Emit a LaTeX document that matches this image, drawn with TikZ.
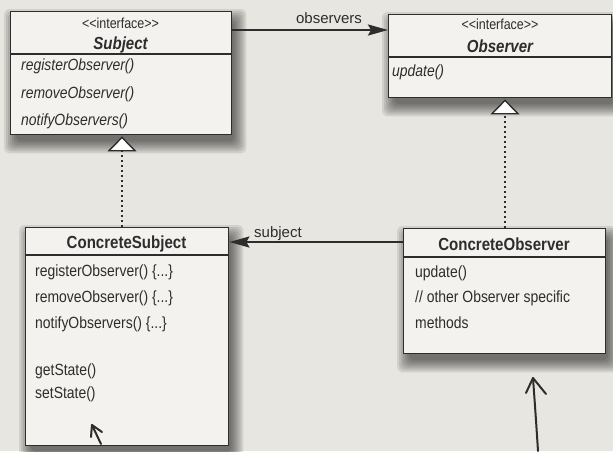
\documentclass[tikz,border=0pt]{standalone}
\usepackage{fontspec}
\setmainfont{Liberation Sans}[FakeStretch=0.86]
\newfontfamily\labelfont{Liberation Sans}
\usetikzlibrary{arrows.meta}
\definecolor{bgcol}{RGB}{232,230,225}
\definecolor{boxcol}{RGB}{243,242,239}
\definecolor{ink}{RGB}{45,45,45}
\pgfdeclarelayer{bglayer}
\pgfdeclarelayer{shadowlayer}
\pgfsetlayers{bglayer,shadowlayer,main}
\tikzset{
  umlbox/.style={draw=ink, line width=1.4pt, fill=boxcol, inner sep=0pt, anchor=north west},
  divider/.style={draw=ink, line width=1.4pt},
  stereo/.style={text=ink, inner sep=0pt, anchor=base, font=\fontsize{14.5}{16}\selectfont},
  ititle/.style={text=ink, inner sep=0pt, anchor=base, font=\fontsize{17.5}{19}\selectfont\bfseries\itshape},
  ctitle/.style={text=ink, inner sep=0pt, anchor=base, font=\fontsize{17.5}{19}\selectfont\bfseries},
  imeth/.style={text=ink, inner sep=0pt, anchor=base west, font=\fontsize{16.2}{18}\selectfont\itshape},
  cmeth/.style={text=ink, inner sep=0pt, anchor=base west, font=\fontsize{16.2}{18}\selectfont},
  assoclabel/.style={text=ink, inner sep=0pt, anchor=base, font=\labelfont\fontsize{15}{17}\selectfont},
  assoc/.style={draw=ink, line width=2.2pt, -{Stealth[length=20pt, width=11pt, inset=3pt]}},
  realize/.style={draw=ink, line width=1.6pt, dash pattern=on 1.6pt off 3.4pt,
    -{Triangle[length=15pt, width=29pt, fill=white, line width=1.4pt, sep=1pt]}},
  hand/.style={draw=ink, line width=2pt, line cap=round, line join=round}
}
\newcommand\boxshadow[1]{%
  \begin{pgfonlayer}{shadowlayer}
  \foreach \r in {-2,0,...,10} {
    \fill[black, opacity=0.095, rounded corners=6pt]
      ([xshift=4pt-\r pt, yshift=-8pt+\r pt]#1.north west) rectangle
      ([xshift=4pt+\r pt, yshift=-8pt-\r pt]#1.south east);
  }
  \end{pgfonlayer}}
\begin{document}
\begin{tikzpicture}[x=1pt, y=-1pt]
\begin{pgfonlayer}{bglayer}
\fill[bgcol] (0,0) rectangle (613,451);
\end{pgfonlayer}
\useasboundingbox (0,0) rectangle (613,451);

% Subject interface
\node[umlbox, minimum width=221pt, minimum height=123pt] (subj) at (10,11) {};
\boxshadow{subj}
\draw[divider] (subj.west |- 0,54) -- (subj.east |- 0,54);
\node[stereo] (subjst) at (120.5,28) {<{}<interface>{}>};
\node[ititle] (subjt) at (120.5,49) {Subject};
\node[imeth] (subjm1) at (21,70) {registerObserver()};
\node[imeth] (subjm2) at (21,98) {removeObserver()};
\node[imeth] (subjm3) at (21,125) {notifyObservers()};

% Observer interface
\node[umlbox, minimum width=223pt, minimum height=83pt] (obs) at (388,14) {};
\boxshadow{obs}
\draw[divider] (obs.west |- 0,57) -- (obs.east |- 0,57);
\node[stereo] (obsst) at (500,29) {<{}<interface>{}>};
\node[ititle] (obst) at (500,52) {Observer};
\node[imeth] (obsm1) at (392,76) {update()};

% ConcreteSubject
\node[umlbox, minimum width=203pt, minimum height=218pt] (csubj) at (25,227) {};
\boxshadow{csubj}
\draw[divider] (csubj.west |- 0,255) -- (csubj.east |- 0,255);
\node[ctitle] (csubjt) at (126.5,248) {ConcreteSubject};
\node[cmeth] (csubjm1) at (35,276) {registerObserver() \{...\}};
\node[cmeth] (csubjm2) at (35,302) {removeObserver() \{...\}};
\node[cmeth] (csubjm3) at (35,328) {notifyObservers() \{...\}};
\node[cmeth] (csubjm4) at (35,375) {getState()};
\node[cmeth] (csubjm5) at (35,398) {setState()};

% ConcreteObserver
\node[umlbox, minimum width=202pt, minimum height=125pt] (cobs) at (403,228) {};
\boxshadow{cobs}
\draw[divider] (cobs.west |- 0,257) -- (cobs.east |- 0,257);
\node[ctitle] (cobst) at (504,250) {ConcreteObserver};
\node[cmeth] (cobsm1) at (415,277) {update()};
\node[cmeth] (cobsm2) at (415,302) {// other Observer specific};
\node[cmeth] (cobsm3) at (415,328) {methods};

% associations
\draw[assoc] (subj.east |- 0,30) -- (obs.west |- 0,30);
\node[assoclabel] (lobs) at (329,23) {observers};
\draw[assoc] (cobs.west |- 0,242) -- (csubj.east |- 0,242);
\node[assoclabel] (lsubj) at (278,237) {subject};

% realizations
\draw[realize] (csubj.north -| 122,0) -- (subj.south -| 122,0);
\draw[realize] (cobs.north -| 505,0) -- (obs.south -| 505,0);

% hand-drawn arrows
\coordinate (h1tip) at (92,425);
\draw[hand] (101,444) -- (h1tip);
\draw[hand] (91,437) -- (h1tip) -- (102,432);
\coordinate (h2tip) at (533,378);
\draw[hand] (538,451) .. controls (536,420) .. (h2tip);
\draw[hand] (526,393) -- (h2tip) -- (546,394);
\end{tikzpicture}
\end{document}
